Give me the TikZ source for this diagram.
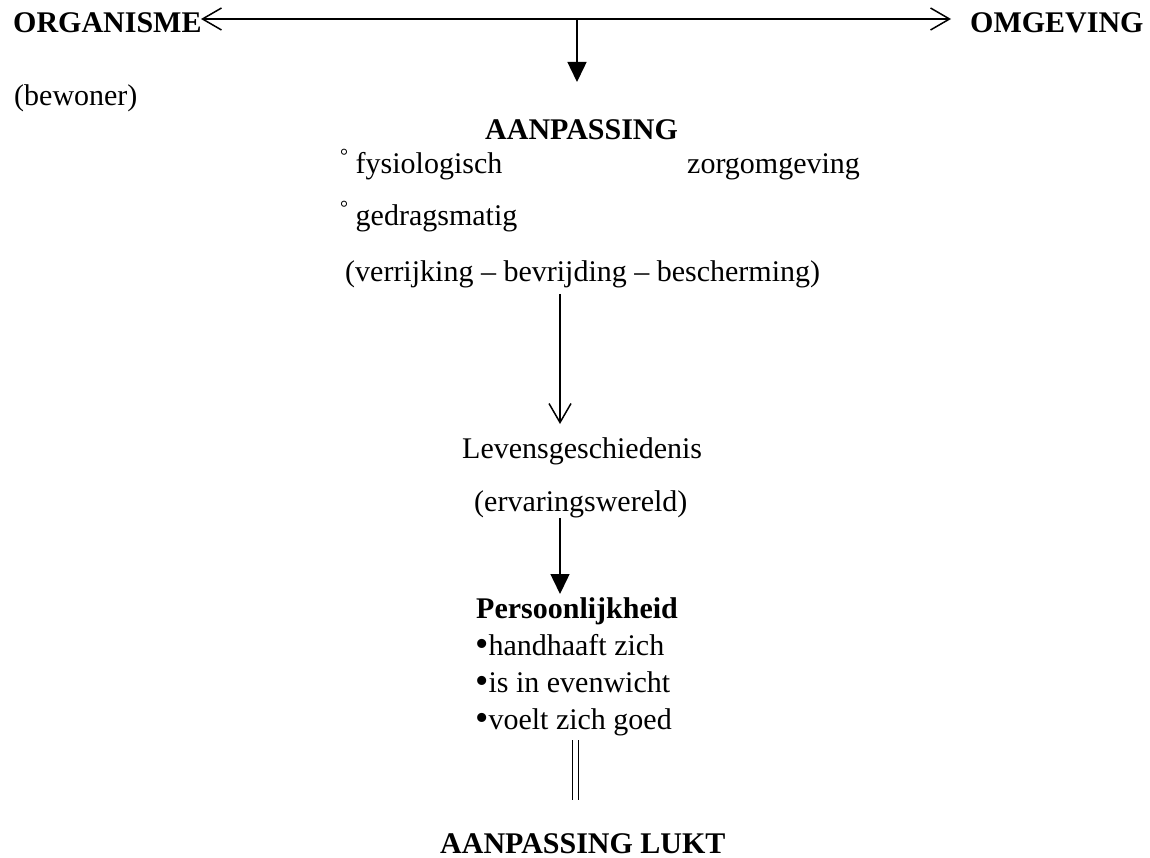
\documentclass[tikz,border=0pt]{standalone}
\usepackage{fontspec}
\setmainfont{Liberation Serif}
\usetikzlibrary{arrows.meta}
\tikzset{
  txt/.style={inner sep=0pt, anchor=base west, font=\fontsize{30}{36}\selectfont},
  btxt/.style={txt, font=\fontsize{30}{36}\selectfont\bfseries},
  ln/.style={line width=1.5pt},
  openhead/.style={ln, -{Straight Barb[length=19pt,width=22pt,line width=1.5pt]}},
  fillhead/.style={ln, -{Triangle[length=20pt,width=19pt]}}
}
\newcommand{\degmark}{\raisebox{0.38em}{\fontsize{20}{20}\selectfont°}}
\newcommand{\bigbul}{\raisebox{-0.04em}{\fontsize{38}{36}\selectfont•}}
\begin{document}
\begin{tikzpicture}[x=1pt,y=-1pt]
\useasboundingbox (0,0) rectangle (1150,858);
% nodes
\node[btxt] (org) at (13,33) {ORGANISME};
\node[btxt] (omg) at (970,33) {OMGEVING};
\node[txt] (bew) at (14,106) {(bewoner)};
\node[btxt] (aan) at (485,140) {AANPASSING};
\node[txt] (fys) at (340,174) {\degmark\ fysiologisch};
\node[txt] (zorg) at (687,174) {zorgomgeving};
\node[txt] (ged) at (340,226) {\degmark\ gedragsmatig};
\node[txt] (ver) at (345,282) {(verrijking – bevrijding – bescherming)};
\node[txt] (lev) at (462,458) {Levensgeschiedenis};
\node[txt] (erv) at (474,511) {(ervaringswereld)};
\node[btxt] (per) at (476,618) {Persoonlijkheid};
\node[txt] (b1) at (475,655) {\bigbul handhaaft zich};
\node[txt] (b2) at (475,692) {\bigbul is in evenwicht};
\node[txt] (b3) at (475,729) {\bigbul voelt zich goed};
\node[btxt] (lukt) at (440,853) {AANPASSING LUKT};
% connector coordinates
\coordinate (hl) at (201,19);
\coordinate (hr) at (951,19);
\coordinate (dtop) at (577,19);
\coordinate (dbot) at (577,82);
\coordinate (v1top) at (560,294);
\coordinate (v1bot) at (560,424);
\coordinate (v2top) at (560,518);
\coordinate (v2bot) at (560,594);
\coordinate (eqtop) at (575.5,740);
\coordinate (eqbot) at (575.5,800);
% connectors
\draw[openhead] (dtop) -- (hl);
\draw[openhead] (dtop) -- (hr);
\draw[fillhead] (dtop) -- (dbot);
\draw[openhead] (v1top) -- (v1bot);
\draw[fillhead] (v2top) -- (v2bot);
\draw[line width=1.4pt] ([xshift=-2.8pt]eqtop) -- ([xshift=-2.8pt]eqbot);
\draw[line width=1.4pt] ([xshift=2.8pt]eqtop) -- ([xshift=2.8pt]eqbot);
\end{tikzpicture}
\end{document}
